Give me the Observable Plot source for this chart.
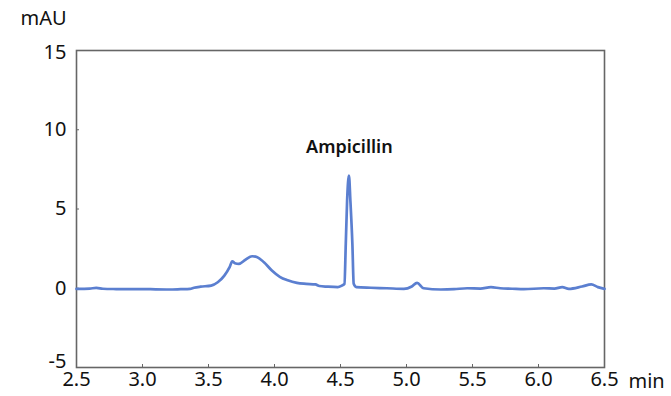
<!DOCTYPE html>
<html>
<head>
<meta charset="utf-8">
<script src="https://cdn.jsdelivr.net/npm/d3@7"></script>
<script src="https://cdn.jsdelivr.net/npm/@observablehq/plot@0.6"></script>
<style>
  html, body { margin: 0; padding: 0; background: #fff; }
  #chart svg { display: block; }
</style>
</head>
<body>
<div id="chart"></div>
<script>
// Retention time (min) and absorbance (mAU)
const time = [2.50, 2.60, 2.65, 2.70, 2.80, 2.90, 3.00, 3.10, 3.20, 3.29, 3.36, 3.39, 3.44, 3.52, 3.57, 3.62, 3.66, 3.68, 3.70, 3.73, 3.78, 3.83, 3.87, 3.92, 3.98, 4.04, 4.10, 4.17, 4.24, 4.31, 4.34, 4.40, 4.48, 4.51, 4.53, 4.54, 4.55, 4.564, 4.575, 4.59, 4.60, 4.62, 4.73, 4.85, 4.98, 5.04, 5.08, 5.13, 5.26, 5.36, 5.46, 5.56, 5.64, 5.71, 5.80, 5.89, 6.04, 6.12, 6.18, 6.23, 6.33, 6.40, 6.45, 6.50];
const mAU  = [-0.04, -0.02, 0.02, -0.03, -0.05, -0.06, -0.05, -0.07, -0.08, -0.06, -0.04, 0.03, 0.10, 0.17, 0.38, 0.80, 1.33, 1.70, 1.58, 1.54, 1.80, 2.02, 1.96, 1.64, 1.12, 0.72, 0.50, 0.34, 0.28, 0.24, 0.14, 0.10, 0.07, 0.17, 0.28, 2.8, 5.5, 7.1, 5.5, 2.8, 0.28, 0.07, 0.03, 0.00, -0.04, 0.11, 0.34, 0.00, -0.08, -0.06, 0.00, -0.02, 0.07, 0.00, -0.03, -0.06, 0.00, -0.02, 0.07, -0.04, 0.11, 0.24, 0.07, -0.04];

const xTicks = [2.5, 3.0, 3.5, 4.0, 4.5, 5.0, 5.5, 6.0, 6.5];
const yTicks = [-5, 0, 5, 10, 15];

const peakNames = ["Ampicillin"];
const peakTimes = [4.567];
const peakLabelY = [8.9];

const trace = time.map((t, i) => ({t, v: mAU[i]}));
const peaks = peakNames.map((name, i) => ({name, t: peakTimes[i], v: peakLabelY[i]}));

const font = "'Noto Sans', 'Open Sans', sans-serif";
const fs = 20;
const yMid = yTicks.filter(d => d !== d3.min(yTicks) && d !== d3.max(yTicks));
const yTop = [d3.max(yTicks)];
const yBot = [d3.min(yTicks)];

const chart = Plot.plot({
  width: 671,
  height: 396,
  marginLeft: 76,
  marginRight: 67,
  marginTop: 50,
  marginBottom: 29,
  style: {fontFamily: font, fontSize: fs + "px", color: "#111", background: "#fff"},
  x: {domain: [2.5, 6.5]},
  y: {domain: [-5, 15]},
  marks: [
    Plot.frame({stroke: "#666", strokeWidth: 1.6}),
    Plot.axisX({ticks: xTicks, tickFormat: d => d.toFixed(1), tickSize: -3, tickPadding: 7, stroke: "#666", label: null, fontSize: fs}),
    Plot.axisY({ticks: yMid, tickFormat: d => String(d), tickSize: -3, tickPadding: 13, stroke: "#666", label: null, fontSize: fs}),
    Plot.axisY({ticks: yTop, tickFormat: d => String(d), tickSize: 0, tickPadding: 10, dy: 2, label: null, fontSize: fs}),
    Plot.axisY({ticks: yBot, tickFormat: d => String(d), tickSize: 0, tickPadding: 10, dy: -6, label: null, fontSize: fs}),
    Plot.text(["mAU"], {frameAnchor: "top-left", dx: -56, dy: -40, textAnchor: "start", fontSize: fs, fill: "#111"}),
    Plot.text(["min"], {frameAnchor: "bottom-right", dx: 24, dy: 14, textAnchor: "start", fontSize: fs, fill: "#111", lineAnchor: "middle"}),
    Plot.line(trace, {x: "t", y: "v", stroke: "#5b7fd0", strokeWidth: 2.7, curve: "monotone-x"}),
    Plot.text(peaks, {x: "t", y: "v", text: "name", fontSize: 18, fontWeight: 600, fill: "#111"})
  ]
});
document.getElementById("chart").appendChild(chart);
</script>
</body>
</html>
